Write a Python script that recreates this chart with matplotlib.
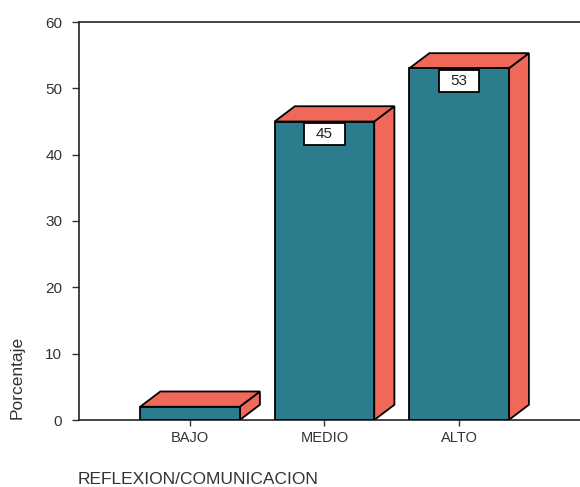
import matplotlib.pyplot as plt
from matplotlib.patches import Polygon, Rectangle

plt.rcParams['font.family'] = ['Liberation Sans', 'DejaVu Sans']

categorias = ['BAJO', 'MEDIO', 'ALTO']
porcentajes = [2, 45, 53]
etiquetas = [None, '45', '53']

frente = '#2b7d8e'
lado = '#f0685a'
ancho = 0.74
dx, dy = 0.15, 2.3  # desplazamiento de la cara trasera (efecto 3D)

fig = plt.figure(figsize=(5.8, 4.87), dpi=100)
ax = fig.add_axes([79 / 580, 67 / 487, 1 - 79 / 580, 398 / 487])

for i, v in enumerate(porcentajes):
    x0, x1 = i - ancho / 2, i + ancho / 2
    # cara lateral
    ax.add_patch(Polygon([(x1, 0), (x1 + dx, dy), (x1 + dx, v + dy), (x1, v)],
                         closed=True, facecolor=lado, edgecolor='black', lw=1.3, zorder=2))
    # cara superior
    ax.add_patch(Polygon([(x0, v), (x0 + dx, v + dy), (x1 + dx, v + dy), (x1, v)],
                         closed=True, facecolor=lado, edgecolor='black', lw=1.3, zorder=2))
    # cara frontal
    ax.add_patch(Rectangle((x0, 0), ancho, v, facecolor=frente,
                           edgecolor='black', lw=1.3, zorder=3))
    if etiquetas[i]:
        # recuadro blanco con el valor
        ax.add_patch(Rectangle((i - 0.15, v - 3.6), 0.3, 3.3, facecolor='white',
                               edgecolor='black', lw=1.3, zorder=4))
        ax.text(i, v - 1.95, etiquetas[i], ha='center', va='center', fontsize=11,
                color='#222222', zorder=5)

ax.set_xlim(-0.825, 2.9)
ax.set_ylim(0, 60)
ax.set_yticks(range(0, 61, 10))
ax.set_xticks(range(len(categorias)))
ax.set_xticklabels(categorias)
ax.tick_params(colors='#333333', width=1)
ax.tick_params(axis='y', labelsize=11, length=5, pad=7)
ax.tick_params(axis='x', labelsize=10.5, length=4, pad=4)
for s in ['left', 'bottom', 'top']:
    ax.spines[s].set_linewidth(1.2)
    ax.spines[s].set_color('#222222')
ax.spines['right'].set_visible(False)

fig.text(17 / 580, (487 - 419) / 487, 'Porcentaje', rotation=90, ha='center',
         va='bottom', fontsize=12.5, color='#333333')
fig.text(78 / 580, 1 - 480 / 487, 'REFLEXION/COMUNICACION', ha='left', va='center',
         fontsize=12.5, color='#333333')

fig.savefig('out.png', dpi=100)
